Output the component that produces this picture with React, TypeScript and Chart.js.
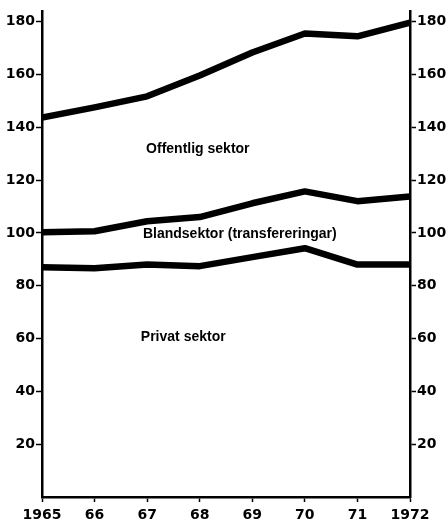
import React, { useEffect, useRef } from "react";
import { Chart, registerables } from "chart.js";

Chart.register(...registerables);

const years = [1965, 1966, 1967, 1968, 1969, 1970, 1971, 1972];
const offentlig = [143.7, 147.5, 151.7, 159.6, 168.3, 175.5, 174.4, 179.6];
const blandsektor = [100.2, 100.6, 104.4, 106.0, 111.2, 115.7, 112.0, 113.8];
const privat = [87.0, 86.6, 88.0, 87.4, 90.8, 94.2, 88.0, 88.0];
const yTicks = [20, 40, 60, 80, 100, 120, 140, 160, 180];
const xTickLabels = ["1965", "66", "67", "68", "69", "70", "71", "1972"];
const areaLabels = ["Offentlig sektor", "Blandsektor (transfereringar)", "Privat sektor"];

const FONT = "'Liberation Sans', Arial, sans-serif";
const TICK_FONT = "'DejaVu Sans', sans-serif";

const labelPlugin = {
  id: "areaLabels",
  afterDatasetsDraw(chart: any) {
    const { ctx, scales } = chart;
    const x = scales.x;
    const y = scales.y;
    const anchors = [
      [1966.98, 131.6],
      [1966.92, 99.5],
      [1966.88, 60.5],
    ];
    ctx.save();
    ctx.fillStyle = "#000";
    ctx.font = `bold 14px ${FONT}`;
    ctx.textBaseline = "middle";
    ctx.textAlign = "left";
    areaLabels.forEach((t, i) => {
      ctx.fillText(t, x.getPixelForValue(anchors[i][0]), y.getPixelForValue(anchors[i][1]));
    });
    ctx.restore();
  },
};

export default function App() {
  const ref = useRef<HTMLCanvasElement | null>(null);
  useEffect(() => {
    if (!ref.current) return;
    const mk = (d: number[]) => ({
      data: years.map((yr, i) => ({ x: yr, y: d[i] })),
      borderColor: "#000",
      borderWidth: 6.5,
      pointRadius: 0,
      tension: 0,
      fill: false,
      borderJoinStyle: "round" as const,
      borderCapStyle: "butt" as const,
      yAxisID: "y",
    });
    const tickFont = { family: TICK_FONT, size: 14, weight: "bold" as const };
    const yCommon = (pos: "left" | "right") => ({
      type: "linear" as const,
      position: pos,
      min: 0,
      max: 184,
      afterBuildTicks: (s: any) => {
        s.ticks = yTicks.map((v) => ({ value: v }));
      },
      ticks: { color: "#000", font: tickFont, padding: 1 },
      grid: {
        display: true,
        drawOnChartArea: false,
        drawTicks: true,
        tickLength: 6,
        tickWidth: 1.5,
        tickColor: "#000",
      },
      border: { display: true, color: "#000", width: 2.5 },
      afterFit: (s: any) => {
        s.width = pos === "left" ? 42 : 38;
      },
    });
    const chart = new Chart(ref.current, {
      type: "line",
      data: { datasets: [mk(offentlig), mk(blandsektor), mk(privat)] },
      options: {
        animation: false,
        responsive: false,
        maintainAspectRatio: false,
        layout: { padding: { top: 11, left: 0, right: 0, bottom: 0 } },
        plugins: { legend: { display: false }, tooltip: { enabled: false } },
        scales: {
          x: {
            type: "linear",
            min: 1965,
            max: 1972,
            afterBuildTicks: (s: any) => {
              s.ticks = years.map((v) => ({ value: v }));
            },
            ticks: {
              color: "#000",
              font: tickFont,
              padding: 5,
              maxRotation: 0,
              autoSkip: false,
              callback: (v: any) => {
                const i = years.indexOf(Number(v));
                return i >= 0 ? xTickLabels[i] : "";
              },
            },
            grid: {
              display: true,
              drawOnChartArea: false,
              drawTicks: true,
              tickLength: 5,
              tickWidth: 1.5,
              tickColor: "#000",
            },
            border: { display: true, color: "#000", width: 2.5 },
            afterFit: (s: any) => {
              s.height = 26;
            },
          },
          y: yCommon("left"),
          y2: yCommon("right"),
        },
      },
      plugins: [labelPlugin],
    });
    return () => chart.destroy();
  }, []);
  return (
    <div style={{ position: "fixed", left: 0, top: 0, width: 448, height: 523, background: "#fff" }}>
      <canvas ref={ref} width={448} height={523} style={{ width: 448, height: 523 }} />
    </div>
  );
}
